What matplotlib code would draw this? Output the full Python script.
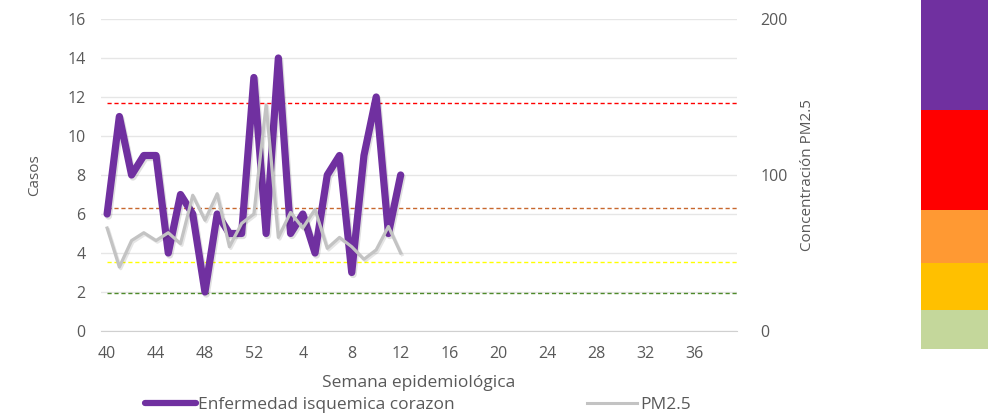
import matplotlib
matplotlib.use("Agg")
import matplotlib.pyplot as plt
import matplotlib.patheffects as pe
from matplotlib.lines import Line2D

# ---- data ----
weeks = list(range(40, 53)) + list(range(1, 40))
casos = [6, 11, 8, 9, 9, 4, 7, 6, 2, 6, 5, 5, 13, 5, 14, 5, 6, 4, 8, 9, 3, 9, 12, 5, 8]
pm25 = [66, 41, 58, 63, 58, 63, 56, 87, 71, 88, 54, 69, 75, 145, 60, 76, 66, 78, 53, 60, 54, 46, 52, 67, 50]
tick_weeks = [40, 44, 48, 52, 4, 8, 12, 16, 20, 24, 28, 32, 36]
thresholds = [11.7, 6.3, 3.55, 1.97]          # in "casos" units
threshold_colors = ["#FF0000", "#C8682E", "#FFFF00", "#4E8A2A"]
band_sizes = [39, 47, 53, 100, 110]            # colour scale band heights (bottom to top)
band_colors = ["#C4D79B", "#FFC000", "#FF9933", "#FF0000", "#7030A0"]

plt.rcParams['font.family'] = ['Open Sans', 'DejaVu Sans']
txt = "#595959"

fig = plt.figure(figsize=(9.88, 4.15), dpi=100)
W, H = 988, 415
ax = fig.add_axes([101 / W, (H - 331) / H, (737 - 101) / W, (331 - 19) / H])
ax2 = ax.twinx()

x = list(range(len(weeks)))
xd = x[:len(casos)]

ax.set_xlim(-0.5, len(weeks) - 0.5)
ax.set_ylim(0, 16)
ax2.set_ylim(0, 200)

ax.set_yticks(range(0, 17, 2))
ax.grid(axis='y', color="#E6E6E6", linewidth=1)
ax.set_axisbelow(True)
ax2.set_yticks([0, 100, 200])

tpos = [weeks.index(w) for w in tick_weeks]
ax.set_xticks(tpos)
ax.set_xticklabels([str(w) for w in tick_weeks])

for a in (ax, ax2):
    for s in a.spines.values():
        s.set_visible(False)
    a.tick_params(length=0, labelsize=11.5, colors=txt)
ax.spines['bottom'].set_visible(True)
ax.spines['bottom'].set_color("#D0D0D0")
ax.tick_params(axis='x', pad=11)
ax.tick_params(axis='y', pad=11)
ax2.tick_params(axis='y', pad=17)

for yv, c in zip(thresholds, threshold_colors):
    ax.hlines(yv, 0, len(weeks) - 0.5, colors=c, linestyles=(0, (3, 2)), linewidth=1)

shadow = [pe.SimpleLineShadow(offset=(1, -1.5), alpha=0.12, shadow_color="#000000"), pe.Normal()]
ax.plot(xd, casos, color="#7030A0", linewidth=5.2, solid_joinstyle='round',
        solid_capstyle='round', path_effects=shadow, zorder=3)
ax2.plot(xd, pm25, color="#C3C3C3", linewidth=2.3, solid_joinstyle='round',
         path_effects=[pe.SimpleLineShadow(offset=(1, -1.2), alpha=0.1), pe.Normal()], zorder=4)

ax.set_ylabel("Casos", color=txt, fontsize=11, labelpad=18)
ax2.set_ylabel("Concentración PM2.5", color=txt, fontsize=11, labelpad=9)
ax.set_xlabel("Semana epidemiológica", color=txt, fontsize=12.5, labelpad=9)

handles = [Line2D([], [], color="#7030A0", linewidth=4.5, solid_capstyle='round'),
           Line2D([], [], color="#C3C3C3", linewidth=2.2)]
fig.legend(handles, ["Enfermedad isquemica corazon", "PM2.5"], loc='center',
           bbox_to_anchor=(418 / W, 1 - 405 / H), ncol=2, frameon=False,
           handlelength=2.9, handletextpad=0.15, columnspacing=7.6,
           fontsize=12.5, labelcolor=txt)

# colour scale on the right
cax = fig.add_axes([921 / W, (H - 349) / H, 67 / W, 349 / H])
bottom = 0
for h, c in zip(band_sizes, band_colors):
    cax.bar(0, h, bottom=bottom, width=1, color=c, linewidth=0)
    bottom += h
cax.set_xlim(-0.5, 0.5)
cax.set_ylim(0, sum(band_sizes))
cax.axis('off')

fig.savefig("out.png", dpi=100)
